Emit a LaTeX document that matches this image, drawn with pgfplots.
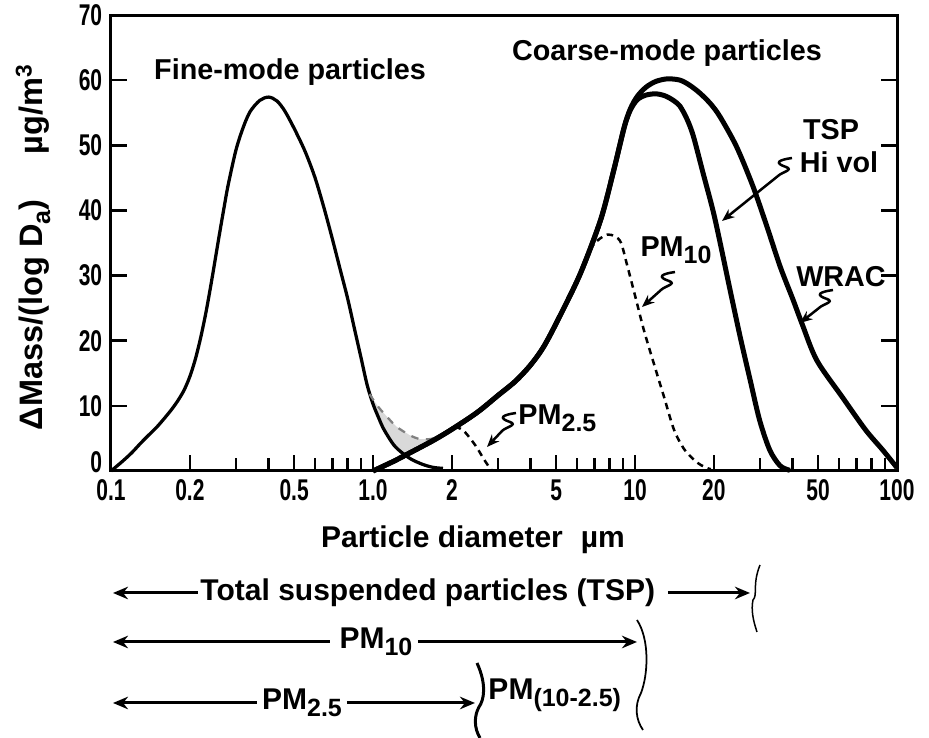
\documentclass[border=0pt]{standalone}
\usepackage{fontspec}
\setmainfont{Liberation Sans}
\newfontfamily\narrowfont{Liberation Sans}[FakeStretch=0.7]
\usepackage{pgfplots}
\pgfplotsset{compat=1.18}
\usetikzlibrary{arrows.meta}
\newcommand\sub[1]{\raisebox{-0.45ex}{\fontsize{10}{10}\selectfont #1}}
\newcommand\squig[4]{\draw[line width=1pt,-{Stealth[length=5pt,width=4pt]}] (#1,#2) .. controls +(-14,2) and +(-12,-4) .. ++(-6,9) .. controls +(8,3) and +(4,-4) .. ++(-8,9) -- (#3,#4);}
\begin{document}
\begin{tikzpicture}
\begin{axis}[
  xmode=log, xmin=0.1, xmax=100, ymin=0, ymax=70,
  scale only axis, width=314.4pt, height=182.4pt,
  clip=false,
  axis line style={line width=1.2pt},
  xtick={0.1,0.2,0.5,1,2,5,10,20,50,100},
  xticklabels={0.1,0.2,0.5,1.0,2,5,10,20,50,100},
  minor xtick={0.3,0.4,0.6,0.7,0.8,0.9,3,4,6,7,8,9,30,40,60,70,80,90},
  ytick={0,10,20,30,40,50,60,70},
  yticklabels={\raisebox{7pt}{0}\hspace{3pt},10,20,30,40,50,60,70},
  xtick pos=bottom, ytick pos=both, yticklabel pos=left,
  tick align=inside,
  major tick length=6.5pt, minor tick length=5pt,
  tick style={black, line width=1pt},
  tick label style={font=\narrowfont\bfseries\fontsize{12}{12}\selectfont},
]
\coordinate (O) at (axis cs:0.1,0);
% gray overlap shading
\addplot[fill=gray!30, draw=none, forget plot] coordinates {
(0.97,11.8)(1.05,9.8)(1.15,8)(1.23,6.8)(1.38,5.5)(1.51,4.9)(1.65,4.9)
(1.65,4.4)(1.5,3.6)(1.35,2.6)(1.3,2.9)(1.2,4.0)(1.1,6.4)(1.05,8.2)(1.0,10.5)};
% fine mode
\addplot[black, line width=1.3pt, smooth, tension=0.5] coordinates {
(0.10,0)(0.11,1.4)(0.12,2.8)(0.13,4.3)(0.14,5.6)(0.15,6.8)(0.16,8.1)(0.17,9.4)
(0.18,10.8)(0.19,12.4)(0.20,14.5)(0.21,17.2)(0.22,20.5)(0.23,24.2)(0.24,28.3)
(0.25,32.5)(0.26,36.6)(0.27,40.4)(0.28,43.9)(0.30,49.3)(0.32,52.8)(0.34,55.2)
(0.37,56.9)(0.40,57.4)(0.43,56.8)(0.46,55.3)(0.50,52.6)(0.55,49.1)(0.60,45.1)
(0.65,40.4)(0.70,35.6)(0.75,30.9)(0.80,26.5)(0.85,21.8)(0.90,17.4)(0.95,13.2)
(1.00,10.3)(1.05,8.2)(1.10,6.4)(1.20,4.0)(1.30,2.7)(1.40,1.8)(1.55,1.0)(1.70,0.55)(1.85,0.4)};
% gray dashed
\addplot[gray, line width=0.9pt, dashed, smooth] coordinates {
(0.97,11.8)(1.05,9.8)(1.15,8)(1.23,6.8)(1.38,5.5)(1.51,4.9)(1.65,4.9)(1.8,5.3)};
% TSP Hi vol
\addplot[black, line width=2pt, smooth, tension=0.5] coordinates {
(1.0,0)(1.2,1.5)(1.4,2.9)(1.7,4.7)(2.0,6.4)(2.5,9.0)(3.0,11.6)(3.5,13.8)(4.0,16.3)
(4.5,19.2)(5.2,24)(6.2,30.4)(7.4,38.6)(8.3,46.2)(9.1,52.8)(9.6,55.4)(10.2,57)
(11,57.7)(12,57.9)(13,57.6)(14,56.9)(14.85,56)(15.8,54)(16.7,51.4)(18.2,45.7)
(19.9,39.8)(21.4,34)(23,28)(25.2,20.6)(27.5,14)(29.9,7.8)(32.7,3.2)(35.8,0.8)(39,0.1)};
% WRAC
\addplot[black, line width=2pt, smooth, tension=0.5] coordinates {
(1.0,0)(1.2,1.5)(1.4,2.9)(1.7,4.7)(2.0,6.4)(2.5,9.0)(3.0,11.6)(3.5,13.8)(4.0,16.3)
(4.5,19.2)(5.2,24)(6.2,30.4)(7.4,38.6)(8.3,46.2)(9.1,52.8)(9.6,55.6)(10.2,57.5)
(11,58.9)(12,59.8)(13.3,60.2)(14.85,60)(16.2,59.2)(17.7,58)(19.4,56.4)(21.1,54.4)
(24.4,49.8)(28.2,43.7)(31.9,37.5)(35.8,31.4)(40.1,26.3)(43.5,22.5)(49.4,17)
(61.7,11.4)(75.9,6.3)(88.3,3.2)(100,0.5)};
% PM10 dashed
\addplot[black, line width=1pt, dash pattern=on 2.6pt off 2pt, smooth, tension=0.5] coordinates {
(6.7,34)(7.3,35.6)(7.86,36.3)(8.4,36)(8.85,35)(9.36,31.4)(9.95,27.3)(10.8,21.7)
(11.8,16.5)(12.9,11.4)(14.1,6.3)(15.5,3.2)(17.4,1.2)(19,0.4)(19.5,0.3)};
% PM2.5 dashed
\addplot[black, line width=1pt, dash pattern=on 2.6pt off 2pt, smooth] coordinates {
(2.05,6.8)(2.2,6.3)(2.35,5)(2.5,3.5)(2.65,1.8)(2.8,0.4)(2.85,0.1)};
\end{axis}
\begin{scope}[shift={(O)}, xshift=-44.4pt, yshift=188.4pt, x=0.4pt, y=-0.4pt,
  every node/.style={font=\bfseries\fontsize{11.5}{12}\selectfont, inner sep=0pt}]
\node at (290,72) {Fine-mode particles};
\node at (667,53) {Coarse-mode particles};
\node at (831,130) {TSP};
\node at (839,162) {Hi vol};
\node at (841,277) {WRAC};
\node[anchor=west] at (640,250) {PM\sub{10}};
\node[anchor=west] at (518,418) {PM\sub{2.5}};
\squig{792}{158}{722}{221}
\squig{675}{272}{642}{307}
\squig{833}{290}{800}{323}
\squig{516}{413}{487}{447}
\node[rotate=90, font=\bfseries\fontsize{13}{14}\selectfont] at (33,247) {ΔMass/(log D\sub{a})\hspace{1.4em}µg/m\textsuperscript{3}};
\node[font=\bfseries\fontsize{12}{13}\selectfont] at (473,540) {Particle diameter\hspace{0.6em}µm};
% ranges
\begin{scope}[line width=1.2pt, -{Stealth[length=6pt,width=5pt]}]
\draw (198,593) -- (113,593);
\draw (668,593) -- (750,593);
\draw (330,642) -- (113,642);
\draw (418,642) -- (637,642);
\draw (257,703) -- (113,703);
\draw (347,703) -- (475,703);
\end{scope}
\node[anchor=west, font=\bfseries\fontsize{12}{13}\selectfont] at (200,593) {Total suspended particles (TSP)};
\node[font=\bfseries\fontsize{12}{13}\selectfont] at (376,642) {PM\sub{10}};
\node[font=\bfseries\fontsize{12}{13}\selectfont] at (302,703) {PM\sub{2.5}};
\node[anchor=west, font=\bfseries\fontsize{12}{13}\selectfont] at (488,695) {PM\sub{(10-2.5)}};
\draw[line width=0.6pt] (760,565) .. controls (752,585) and (758,595) .. (753,600) .. controls (751,610) and (753,620) .. (757,632);
\draw[line width=0.7pt] (637,620) .. controls (650,640) and (648,675) .. (641,693) .. controls (634,706) and (636,720) .. (643,730);
\draw[line width=1.2pt] (477,663) .. controls (487,685) and (484,700) .. (479,707) .. controls (474,716) and (474,728) .. (480,738);
\pgfresetboundingbox
\path[use as bounding box] (0,0) rectangle (929,738);
\end{scope}
\end{tikzpicture}
\end{document}
